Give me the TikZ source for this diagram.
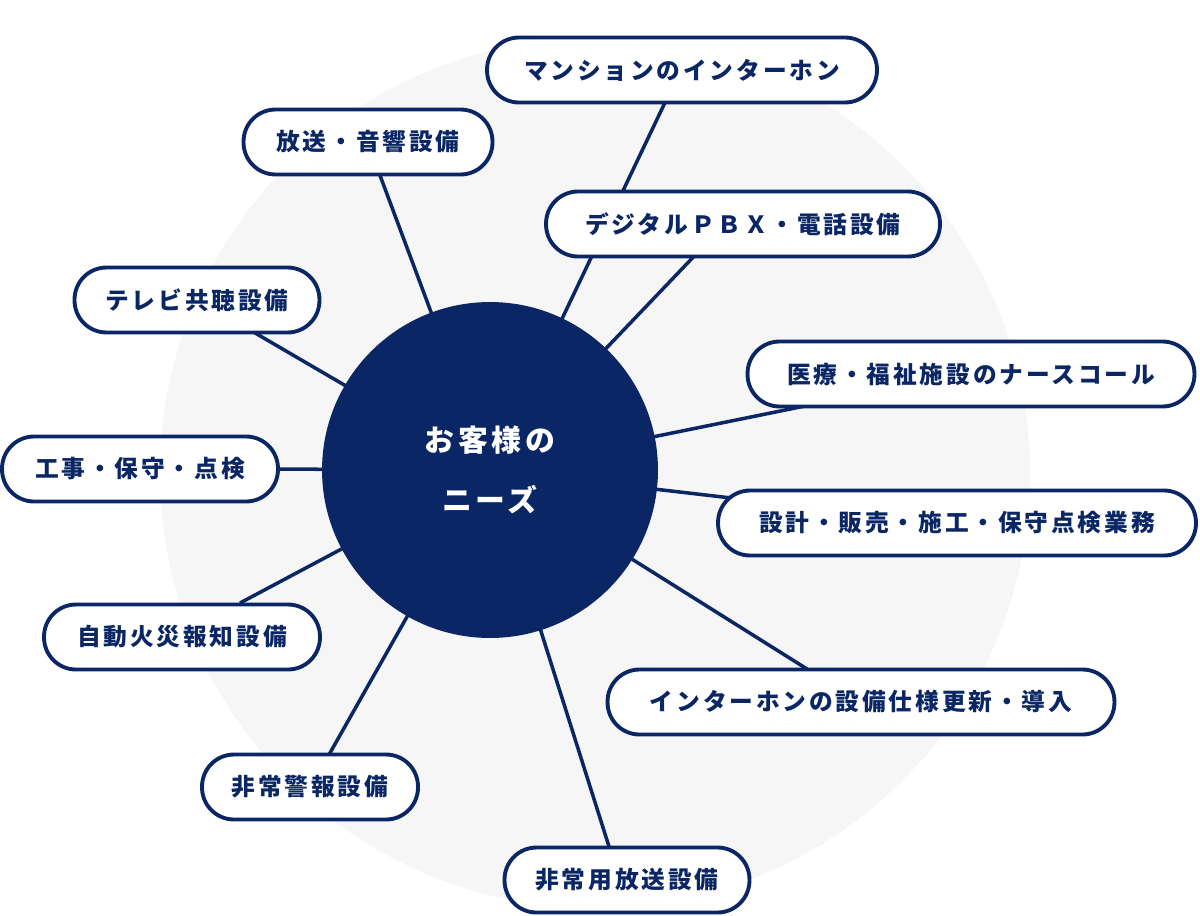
\documentclass[tikz,border=0pt]{standalone}
\usepackage{fontspec}
\newfontfamily\jpfont[LetterSpace=12]{Noto Sans CJK JP}
\usetikzlibrary{calc}
\definecolor{navy}{HTML}{0A2665}
\definecolor{pale}{HTML}{F6F6F7}

\begin{document}
\begin{tikzpicture}[x=0.02cm, y=-0.02cm]
        % ================= 样式 =================
        \tikzset{
            needbox/.style={draw=navy, line width=2.2pt, fill=white, rounded corners=0.64cm,
                minimum height=1.3cm, inner sep=0pt, text=navy, font=\jpfont\bfseries\fontsize{13.5}{16}\selectfont},
            link/.style={navy, line width=2pt}
        }
        \useasboundingbox (0,0) rectangle (1200,916);

        % ================= 背景 =================
        \fill[pale] (595,473) circle (435);

        % ================= 端点 =================
        \coordinate (c1) at (670,92);
        \coordinate (c2) at (378,170);
        \coordinate (c3) at (700,250);
        \coordinate (c4) at (250,330);
        \coordinate (c5) at (810,405);
        \coordinate (c6) at (260,469);
        \coordinate (c7) at (740,499);
        \coordinate (c8) at (240,603);
        \coordinate (c9) at (815,674);
        \coordinate (c10) at (326,760);
        \coordinate (c11) at (612,856);

        \coordinate (hc) at (490,470);
        \foreach \i in {1,...,11} \draw[link] (hc) -- (c\i);

        % ================= 中心 =================
        \node[circle, fill=navy, minimum size=6.72cm, inner sep=0pt, align=center, text=white,
            font=\jpfont\bfseries\fontsize{17}{34}\selectfont] (hub) at (hc) {お客様の\\ニーズ};

        % ================= 项目 =================
        \node[needbox, minimum width=7.8cm] (n1) at (682,70) {マンションのインターホン};
        \node[needbox, minimum width=4.98cm] (n2) at (368,142) {放送・音響設備};
        \node[needbox, minimum width=7.88cm] (n3) at (743,224) {デジタルＰＢＸ・電話設備};
        \node[needbox, minimum width=4.9cm] (n4) at (197,300) {テレビ共聴設備};
        \node[needbox, minimum width=8.94cm] (n5) at (971,374) {医療・福祉施設のナースコール};
        \node[needbox, minimum width=5.52cm] (n6) at (140,469) {工事・保守・点検};
        \node[needbox, minimum width=9.56cm] (n7) at (957,523) {設計・販売・施工・保守点検業務};
        \node[needbox, minimum width=5.52cm] (n8) at (182,637) {自動火災報知設備};
        \node[needbox, minimum width=10.14cm] (n9) at (861,702) {インターホンの設備仕様更新・導入};
        \node[needbox, minimum width=4.32cm] (n10) at (310,787) {非常警報設備};
        \node[needbox, minimum width=4.9cm] (n11) at (627,880) {非常用放送設備};

    \end{tikzpicture}
\end{document}
